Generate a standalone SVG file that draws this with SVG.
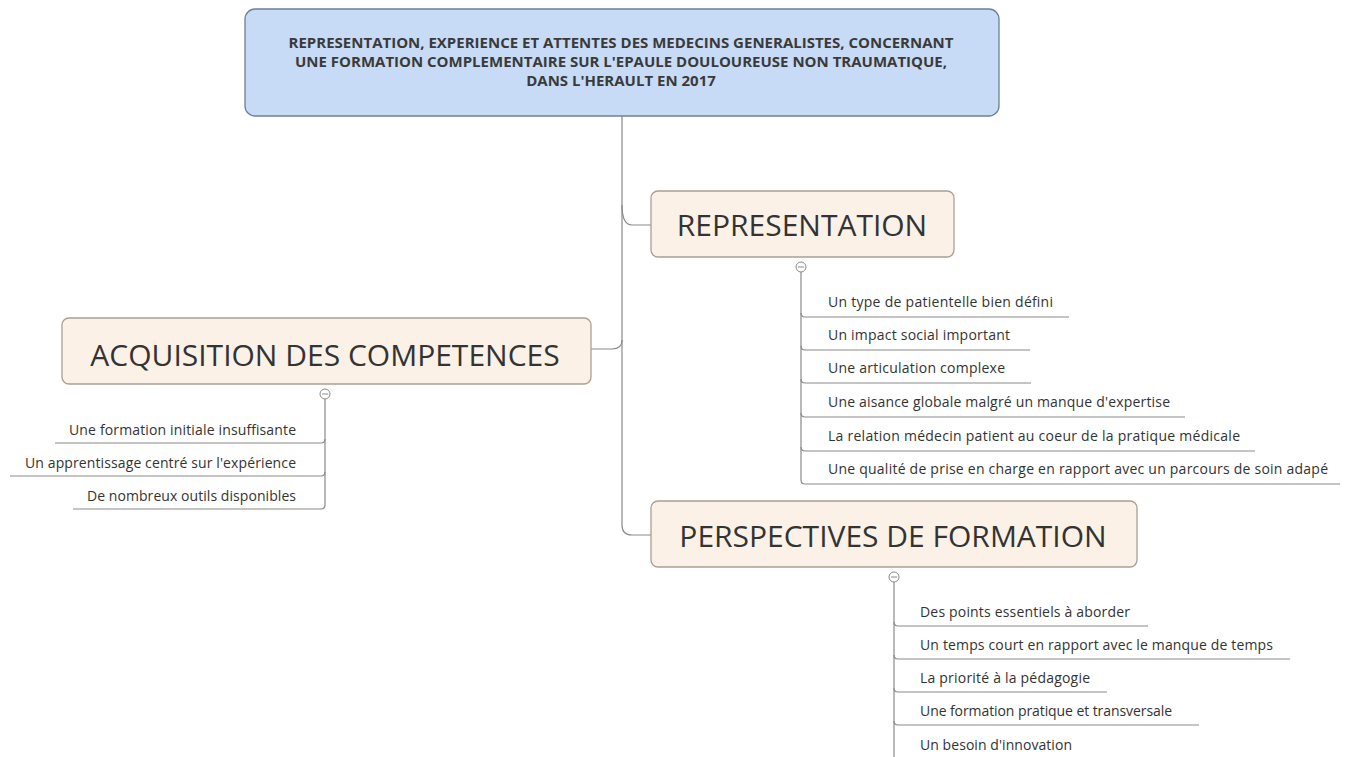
<svg xmlns="http://www.w3.org/2000/svg" width="1350" height="757" viewBox="0 0 1350 757">
<style>
.root{fill:#c7dbf6;stroke:#6f7f9c;stroke-width:1.3}
.main{fill:#fbf1e7;stroke:#a8a097;stroke-width:1.3}
.rt{font-family:"Open Sans",sans-serif;font-weight:bold;font-size:15px;fill:#3a3a3a;text-anchor:middle}
.mt{font-family:"Open Sans",sans-serif;font-size:30px;fill:#333;text-anchor:middle}
.ct{font-family:"Open Sans",sans-serif;font-size:14px;fill:#333}
.ctr{font-family:"Open Sans",sans-serif;font-size:14px;fill:#333;text-anchor:end}
.ln{fill:none;stroke:#8a8a8a;stroke-width:1.2}
.col{fill:#fff;stroke:#8a8a8a;stroke-width:1}
</style>
<rect width="1350" height="757" fill="#fff"/>
<g id="connectors">
<path class="ln" d="M622 116 V525 Q622 535 632 535 H652"/>
<path class="ln" d="M622 205 Q622 225 632 225 H652"/>
<path class="ln" d="M622 340 Q622 349 612 349 H591"/>
<path class="ln" d="M801 272 V480 Q801 484 805 484 H1340"/>
<path class="ln" d="M801 313 Q801 317 805 317 H1069"/>
<path class="ln" d="M801 346 Q801 350 805 350 H1030"/>
<path class="ln" d="M801 379 Q801 383 805 383 H1031"/>
<path class="ln" d="M801 413 Q801 417 805 417 H1185"/>
<path class="ln" d="M801 447 Q801 451 805 451 H1255"/>
<path class="ln" d="M325 399 V505 Q325 509 321 509 H73"/>
<path class="ln" d="M325 439 Q325 443 321 443 H55"/>
<path class="ln" d="M325 472 Q325 476 321 476 H10"/>
<path class="ln" d="M894 582 V757"/>
<path class="ln" d="M894 622 Q894 626 898 626 H1148"/>
<path class="ln" d="M894 655 Q894 659 898 659 H1290"/>
<path class="ln" d="M894 688 Q894 692 898 692 H1107"/>
<path class="ln" d="M894 721 Q894 725 898 725 H1199"/>
</g>
<g id="root">
<rect class="root" x="245" y="9" width="754" height="107" rx="10"/>
<text class="rt" x="621" y="48">REPRESENTATION, EXPERIENCE ET ATTENTES DES MEDECINS GENERALISTES, CONCERNANT</text>
<text class="rt" x="621" y="67">UNE FORMATION COMPLEMENTAIRE SUR L'EPAULE DOULOUREUSE NON TRAUMATIQUE,</text>
<text class="rt" x="621" y="86">DANS L'HERAULT EN 2017</text>
</g>
<g id="representation">
<rect class="main" x="651" y="191" width="303" height="66" rx="7"/>
<text class="mt" x="802" y="236">REPRESENTATION</text>
<circle class="col" cx="801" cy="267" r="5"/>
<line x1="798" y1="267" x2="804" y2="267" stroke="#8a8a8a"/>
</g>
<g id="rep-children">
<text class="ct" x="828" y="307" textLength="225">Un type de patientelle bien défini</text>
<text class="ct" x="828" y="340" textLength="182">Un impact social important</text>
<text class="ct" x="828" y="373" textLength="177">Une articulation complexe</text>
<text class="ct" x="828" y="407" textLength="342">Une aisance globale malgré un manque d'expertise</text>
<text class="ct" x="828" y="441" textLength="412">La relation médecin patient au coeur de la pratique médicale</text>
<text class="ct" x="828" y="474" textLength="500">Une qualité de prise en charge en rapport avec un parcours de soin adapé</text>
</g>
<g id="acquisition">
<rect class="main" x="62" y="318" width="529" height="66" rx="7"/>
<text class="mt" x="325" y="366">ACQUISITION DES COMPETENCES</text>
<circle class="col" cx="325" cy="394" r="5"/>
<line x1="322" y1="394" x2="328" y2="394" stroke="#8a8a8a"/>
</g>
<g id="acq-children">
<text class="ctr" x="296" y="435" textLength="227">Une formation initiale insuffisante</text>
<text class="ctr" x="296" y="468" textLength="271">Un apprentissage centré sur l'expérience</text>
<text class="ctr" x="296" y="501" textLength="209">De nombreux outils disponibles</text>
</g>
<g id="perspectives">
<rect class="main" x="651" y="501" width="486" height="66" rx="7"/>
<text class="mt" x="893" y="547">PERSPECTIVES DE FORMATION</text>
<circle class="col" cx="894" cy="577" r="5"/>
<line x1="891" y1="577" x2="897" y2="577" stroke="#8a8a8a"/>
</g>
<g id="persp-children">
<text class="ct" x="920" y="617" textLength="210">Des points essentiels à aborder</text>
<text class="ct" x="920" y="650" textLength="353">Un temps court en rapport avec le manque de temps</text>
<text class="ct" x="920" y="683" textLength="170">La priorité à la pédagogie</text>
<text class="ct" x="920" y="716" textLength="252">Une formation pratique et transversale</text>
<text class="ct" x="920" y="750" textLength="152">Un besoin d'innovation</text>
</g>
</svg>
